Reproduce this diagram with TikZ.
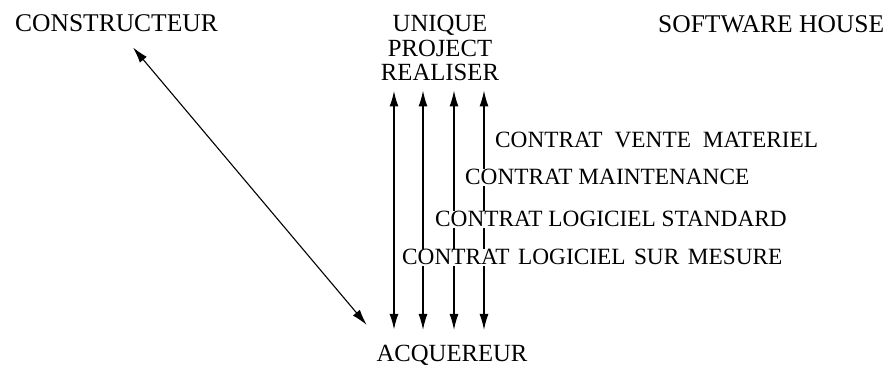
\documentclass[tikz,border=0pt]{standalone}
\usepackage{fontspec}
\setmainfont{Liberation Serif}
\usetikzlibrary{arrows.meta}
\begin{document}
\begin{tikzpicture}[x=1pt,y=1pt,
  head/.style={font=\fontsize{25.5}{24.5}\selectfont, inner sep=0pt},
  mid/.style={font=\fontsize{24.7}{24.5}\selectfont, inner sep=0pt},
  lab/.style={font=\fontsize{23.3}{24}\selectfont, fill=white, inner sep=1pt, anchor=base west},
  arr/.style={line width=1.3pt, {Latex[length=16pt,width=9pt]}-{Latex[length=16pt,width=9pt]}},
  arrthick/.style={arr, line width=1.9pt}]
\useasboundingbox (0,0) rectangle (895,-366);
\node[head, anchor=base west] (con) at (15,-32) {CONSTRUCTEUR};
\node[head, anchor=base west] (sw) at (658,-33) {SOFTWARE HOUSE};
\node[mid, anchor=north, align=center] (upr) at (440,-15) {UNIQUE\\PROJECT\\REALISER};
\node[mid, anchor=base] (acq) at (452,-362) {ACQUEREUR};
\coordinate (x1) at (394,0);
\coordinate (x2) at (423,0);
\coordinate (x3) at (454,0);
\coordinate (x4) at (484,0);
\draw[arrthick, shorten <=15.5pt, shorten >=9.5pt] (acq.north -| x1) -- (upr.south -| x1);
\draw[arr, shorten <=15.5pt, shorten >=9.5pt] (acq.north -| x2) -- (upr.south -| x2);
\draw[arr, shorten <=15.5pt, shorten >=9.5pt] (acq.north -| x3) -- (upr.south -| x3);
\draw[arr, shorten <=15.5pt, shorten >=9.5pt] (acq.north -| x4) -- (upr.south -| x4);
\draw[arr, line width=1.1pt] ([xshift=118pt,yshift=-15pt]con.south west) -- ([xshift=-9.6pt,yshift=20.5pt]acq.north west);
\node[lab] (l1) at (494,-148) {CONTRAT\hspace{12pt}VENTE\hspace{12pt}MATERIEL};
\node[lab] (l2) at (464,-185) {CONTRAT MAINTENANCE};
\node[lab] (l3) at (434,-227) {CONTRAT LOGICIEL STANDARD};
\node[lab] (l4) at (401,-265) {CONTRAT\hspace{8.5pt}LOGICIEL\hspace{8.5pt}SUR\hspace{8.5pt}MESURE};
\end{tikzpicture}
\end{document}
